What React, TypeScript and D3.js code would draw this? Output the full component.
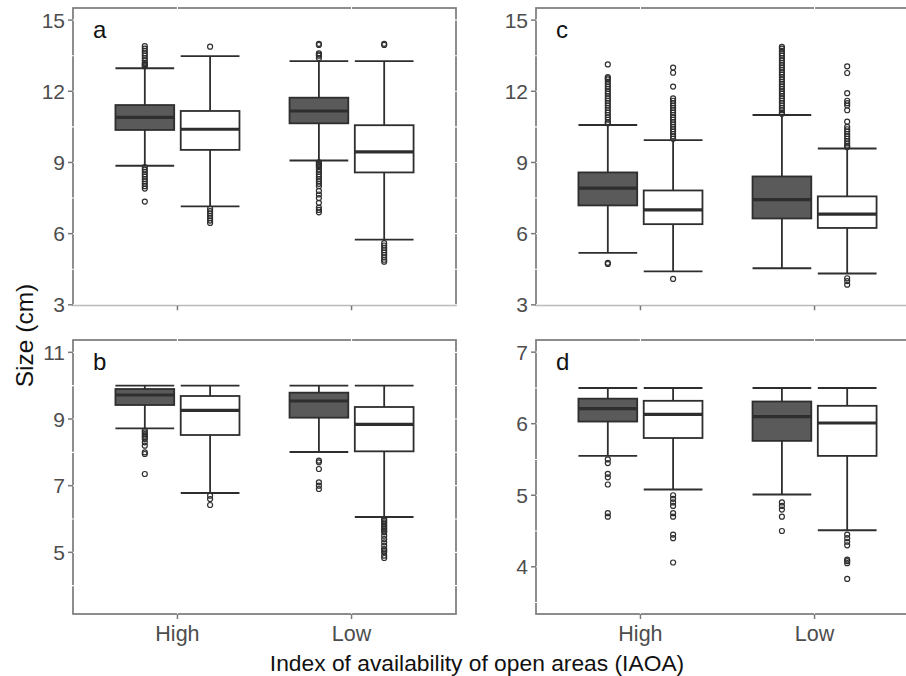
import React from 'react';
import * as d3 from 'd3';

// order of boxes in every panel: High/dark, High/white, Low/dark, Low/white
const categories = ['High', 'Low'];
const groupFills = ['#5a5a5a', '#ffffff'];

// [lower whisker, q1, median, q3, upper whisker]
const statsA = [
  [8.86, 10.37, 10.9, 11.42, 12.97],
  [7.15, 9.53, 10.4, 11.17, 13.48],
  [9.08, 10.65, 11.17, 11.73, 13.27],
  [5.75, 8.58, 9.45, 10.57, 13.27],
];
const outliersA = [
  [13.05, 13.1, 13.15, 13.2, 13.3, 13.4, 13.5, 13.6, 13.7, 13.8, 13.9, 8.8, 8.7, 8.6, 8.5, 8.4, 8.3, 8.2, 8.1, 8.0, 7.9, 7.35],
  [13.88, 7.05, 6.95, 6.85, 6.75, 6.65, 6.55, 6.45],
  [13.4, 13.5, 13.55, 13.6, 13.95, 14.0, 9.0, 8.95, 8.9, 8.85, 8.8, 8.7, 8.6, 8.5, 8.4, 8.3, 8.2, 8.1, 8.0, 7.8, 7.65, 7.5, 7.3, 7.1, 7.0, 6.9],
  [13.95, 14.0, 5.6, 5.5, 5.4, 5.3, 5.2, 5.1, 5.0, 4.9, 4.82],
];

const statsB = [
  [8.72, 9.42, 9.72, 9.9, 10.0],
  [6.78, 8.52, 9.26, 9.69, 10.0],
  [8.01, 9.04, 9.54, 9.79, 10.0],
  [6.06, 8.03, 8.84, 9.36, 10.0],
];
const outliersB = [
  [8.65, 8.6, 8.55, 8.5, 8.45, 8.4, 8.3, 8.2, 8.0, 7.95, 7.35],
  [6.7, 6.6, 6.42],
  [7.75, 7.7, 7.5, 7.1, 7.0, 6.9],
  [6.0, 5.95, 5.9, 5.85, 5.8, 5.75, 5.7, 5.65, 5.6, 5.5, 5.4, 5.3, 5.2, 5.1, 5.05, 5.0, 4.9, 4.83],
];

const statsC = [
  [5.19, 7.19, 7.92, 8.58, 10.58],
  [4.41, 6.4, 7.0, 7.82, 9.94],
  [4.54, 6.64, 7.43, 8.41, 11.0],
  [4.32, 6.24, 6.82, 7.57, 9.59],
];
const outliersC = [
  [13.13, 12.6, 12.55, 12.5, 12.4, 12.3, 12.2, 12.1, 12.0, 11.9, 11.8, 11.7, 11.6, 11.5, 11.4, 11.3, 11.2, 11.1, 11.0, 10.9, 10.8, 10.7, 10.65, 4.77, 4.72],
  [13.0, 12.78, 12.2, 11.7, 11.6, 11.5, 11.4, 11.3, 11.2, 11.1, 11.0, 10.9, 10.8, 10.7, 10.6, 10.5, 10.4, 10.3, 10.2, 10.1, 10.0, 4.09],
  [13.87, 13.8, 13.7, 13.6, 13.5, 13.4, 13.3, 13.2, 13.1, 13.0, 12.9, 12.8, 12.7, 12.6, 12.5, 12.4, 12.3, 12.2, 12.1, 12.0, 11.9, 11.8, 11.7, 11.6, 11.5, 11.4, 11.3, 11.2, 11.1, 11.05],
  [13.05, 12.77, 11.92, 11.6, 11.5, 11.4, 11.2, 10.72, 10.5, 10.4, 10.3, 10.2, 10.1, 10.0, 9.9, 9.8, 9.7, 9.65, 4.12, 4.0, 3.85],
];

const statsD = [
  [5.55, 6.03, 6.21, 6.35, 6.5],
  [5.08, 5.8, 6.13, 6.32, 6.5],
  [5.01, 5.76, 6.1, 6.31, 6.5],
  [4.51, 5.55, 6.01, 6.25, 6.5],
];
const outliersD = [
  [5.5, 5.45, 5.3, 5.25, 5.15, 4.75, 4.7],
  [5.0, 4.95, 4.9, 4.85, 4.75, 4.7, 4.45, 4.4, 4.06],
  [4.9, 4.85, 4.8, 4.7, 4.5],
  [4.45, 4.4, 4.35, 4.3, 4.1, 4.08, 4.05, 3.83],
];

const ticksTop = [3, 6, 9, 12, 15];
const minorTop = [4.5, 7.5, 10.5, 13.5];
const ticksB = [5, 7, 9, 11];
const minorB = [4, 6, 8, 10];
const ticksD = [4, 5, 6, 7];
const minorD = [3.5, 4.5, 5.5, 6.5];

const W = 906;
const H = 676;
const FONT = '"Liberation Sans", Arial, sans-serif';

type PanelProps = {
  label: string;
  left: number;
  top: number;
  bottom: number;
  domain: [number, number];
  ticks: number[];
  minor: number[];
  stats: number[][];
  outliers: number[][];
  showX: boolean;
};

function Panel({ label, left, top, bottom, domain, ticks, minor, stats, outliers, showX }: PanelProps) {
  const width = 383;
  const x = d3.scalePoint().domain(categories).range([left, left + width]).padding(0.6);
  const y = d3.scaleLinear().domain(domain).range([bottom, top]);
  const step = x.step();
  const bw = 0.3375 * step;
  const off = 0.1875 * step;

  return (
    <g>
      <rect x={left} y={top} width={width} height={bottom - top} fill="#fff" stroke="#7a7a7a" strokeWidth={1.7} />
      {/* white grid lines cut the frame like in the original */}
      {[...ticks, ...minor].map(t => (
        <line key={'g' + t} x1={left - 1.5} x2={left + width + 1.5} y1={y(t)} y2={y(t)} stroke="#fff" strokeWidth={1.1} />
      ))}
      {categories.map(c => (
        <line key={'gx' + c} x1={x(c)} x2={x(c)} y1={top - 1.5} y2={bottom + 1.5} stroke="#fff" strokeWidth={1.1} />
      ))}
      {stats.map((s, i) => {
        const cx = (x(categories[Math.floor(i / 2)]) as number) + (i % 2 === 0 ? -off : off);
        const x0 = cx - bw / 2;
        const x1 = cx + bw / 2;
        return (
          <g key={i} stroke="#2e2e2e" fill="none">
            <line x1={cx} x2={cx} y1={y(s[0])} y2={y(s[1])} strokeWidth={1.8} />
            <line x1={cx} x2={cx} y1={y(s[3])} y2={y(s[4])} strokeWidth={1.8} />
            <line x1={x0} x2={x1} y1={y(s[0])} y2={y(s[0])} strokeWidth={1.9} />
            <line x1={x0} x2={x1} y1={y(s[4])} y2={y(s[4])} strokeWidth={1.9} />
            <rect x={x0} y={y(s[3])} width={bw} height={y(s[1]) - y(s[3])} fill={groupFills[i % 2]} strokeWidth={1.8} />
            <line x1={x0} x2={x1} y1={y(s[2])} y2={y(s[2])} strokeWidth={3.2} />
            {outliers[i].map((o, j) => (
              <circle key={j} cx={cx} cy={y(o)} r={2.5} fill="none" strokeWidth={1.2} />
            ))}
          </g>
        );
      })}
      {ticks.filter(t => t >= domain[0] && t <= domain[1]).map(t => (
        <g key={'t' + t}>
          <line x1={left - 5} x2={left} y1={y(t)} y2={y(t)} stroke="#7a7a7a" strokeWidth={1.5} />
          <text x={left - 8} y={y(t)} dy="0.36em" textAnchor="end" fontSize={21} fill="#4d4d4d" fontFamily={FONT}>{t}</text>
        </g>
      ))}
      {categories.map(c => (
        <g key={'xt' + c}>
          <line x1={x(c)} x2={x(c)} y1={bottom} y2={bottom + 5} stroke="#7a7a7a" strokeWidth={1.5} />
          {showX && (
            <text x={x(c)} y={641} textAnchor="middle" fontSize={21.5} fill="#4d4d4d" fontFamily={FONT}>{c}</text>
          )}
        </g>
      ))}
      <text x={left + 20} y={top + 30} fontSize={24} fill="#111" fontFamily={FONT}>{label}</text>
    </g>
  );
}

export default function App() {
  return (
    <div style={{ position: 'absolute', left: 0, top: 0, width: W, height: H, overflow: 'hidden', background: '#fff' }}>
      <svg width={W} height={H} style={{ display: 'block' }}>
        <rect width={W} height={H} fill="#fff" />
        <Panel label="a" left={73} top={8} bottom={305.3} domain={[2.98, 15.51]} ticks={ticksTop} minor={minorTop} stats={statsA} outliers={outliersA} showX={false} />
        <Panel label="b" left={73} top={340} bottom={614} domain={[3.15, 11.37]} ticks={ticksB} minor={minorB} stats={statsB} outliers={outliersB} showX={true} />
        <Panel label="c" left={536} top={8} bottom={305.3} domain={[2.98, 15.51]} ticks={ticksTop} minor={minorTop} stats={statsC} outliers={outliersC} showX={false} />
        <Panel label="d" left={536} top={340} bottom={614} domain={[3.34, 7.17]} ticks={ticksD} minor={minorD} stats={statsD} outliers={outliersD} showX={true} />
        <text transform="translate(33,335.5) rotate(-90)" textAnchor="middle" fontSize={24.5} fill="#111" fontFamily={FONT}>Size (cm)</text>
        <text x={477} y={671} textAnchor="middle" fontSize={22.8} fill="#111" fontFamily={FONT}>Index of availability of open areas (IAOA)</text>
      </svg>
    </div>
  );
}
